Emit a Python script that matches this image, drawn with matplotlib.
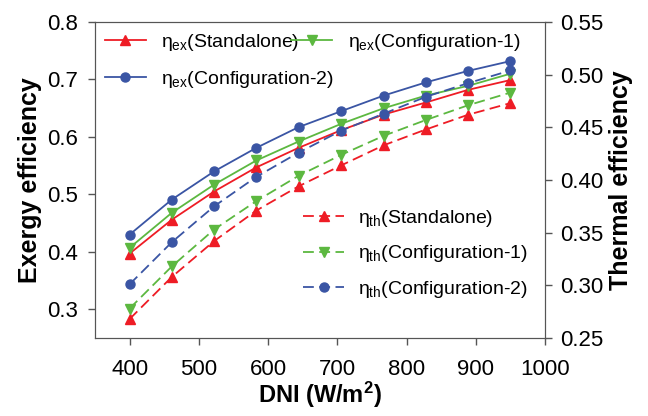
import matplotlib.pyplot as plt
import numpy as np

plt.rcParams['font.family'] = ['Liberation Sans', 'DejaVu Sans']
plt.rcParams['mathtext.fontset'] = 'custom'
plt.rcParams['mathtext.rm'] = 'Liberation Sans'
plt.rcParams['mathtext.it'] = 'Liberation Sans'
plt.rcParams['mathtext.bf'] = 'Liberation Sans:bold'

dni = [400, 461, 522, 583, 644, 706, 767, 828, 889, 950]

ex_standalone = [0.397, 0.456, 0.505, 0.547, 0.581, 0.612, 0.639, 0.660, 0.682, 0.699]
ex_config1 = [0.407, 0.468, 0.517, 0.559, 0.592, 0.623, 0.650, 0.672, 0.689, 0.710]
ex_config2 = [0.430, 0.491, 0.540, 0.581, 0.617, 0.645, 0.672, 0.695, 0.715, 0.732]

th_standalone = [0.268, 0.308, 0.342, 0.371, 0.394, 0.414, 0.433, 0.448, 0.462, 0.473]
th_config1 = [0.278, 0.318, 0.353, 0.380, 0.404, 0.424, 0.442, 0.457, 0.471, 0.483]
th_config2 = [0.301, 0.341, 0.375, 0.403, 0.426, 0.447, 0.463, 0.479, 0.492, 0.504]

red = '#ee1c25'
green = '#5cb840'
blue = '#3a55a4'

fig = plt.figure(figsize=(6.48, 4.16), dpi=100)
ax = fig.add_axes([0.1466, 0.1875, 0.6944, 0.7595])
ax2 = ax.twinx()

l1, = ax.plot(dni, ex_standalone, '-^', color=red, ms=6.5, lw=1.3, label=r'$\eta_{ex}$(Standalone)')
l2, = ax.plot(dni, ex_config1, '-v', color=green, ms=6.5, lw=1.3, label=r'$\eta_{ex}$(Configuration-1)')
l3, = ax.plot(dni, ex_config2, '-o', color=blue, ms=6.5, lw=1.3, label=r'$\eta_{ex}$(Configuration-2)')

d = (6, 3)
t1, = ax2.plot(dni, th_standalone, '--^', color=red, ms=6.5, lw=1.3, dashes=d, label=r'$\eta_{th}$(Standalone)')
t2, = ax2.plot(dni, th_config1, '--v', color=green, ms=6.5, lw=1.3, dashes=d, label=r'$\eta_{th}$(Configuration-1)')
t3, = ax2.plot(dni, th_config2, '--o', color=blue, ms=6.5, lw=1.3, dashes=d, label=r'$\eta_{th}$(Configuration-2)')

ax.set_xlim(350, 1000)
ax.set_ylim(0.25, 0.8)
ax2.set_ylim(0.25, 0.55)
ax.set_xticks([400, 500, 600, 700, 800, 900, 1000])
ax.set_yticks([0.3, 0.4, 0.5, 0.6, 0.7, 0.8])
ax.set_yticklabels(['0.3', '0.4', '0.5', '0.6', '0.7', '0.8'])
ax2.set_yticks([0.25, 0.30, 0.35, 0.40, 0.45, 0.50, 0.55])
ax2.set_yticklabels(['0.25', '0.30', '0.35', '0.40', '0.45', '0.50', '0.55'])

for a in (ax, ax2):
    a.tick_params(labelsize=16, length=5, width=1, color='#555555')
    for s in a.spines.values():
        s.set_color('#555555')
ax.tick_params(axis='x', pad=10)
ax.tick_params(axis='y', pad=7)
ax2.tick_params(axis='y', pad=6)

ax.set_xlabel(r'DNI (W/m$^\mathbf{2}$)', fontsize=17, fontweight='bold', labelpad=0)
ax.set_ylabel('Exergy efficiency', fontsize=18, fontweight='bold', labelpad=4)
ax2.set_ylabel('Thermal efficiency', fontsize=18, fontweight='bold', labelpad=4)

# column-major fill: Standalone / Config-2 in col 1, Config-1 in col 2
leg1 = ax2.legend(handles=[l1, l3, l2], loc='upper left', ncol=2, frameon=False,
                  fontsize=14, handlelength=2.1, handletextpad=0.8, columnspacing=-2.2,
                  labelspacing=0.85, borderaxespad=0.1)
ax2.add_artist(leg1)
ax2.legend(handles=[t1, t2, t3], loc='lower right', frameon=False,
           fontsize=14, handlelength=2.1, handletextpad=0.7, labelspacing=0.75,
           bbox_to_anchor=(1.0, 0.065))

fig.savefig('out.png', dpi=100)
